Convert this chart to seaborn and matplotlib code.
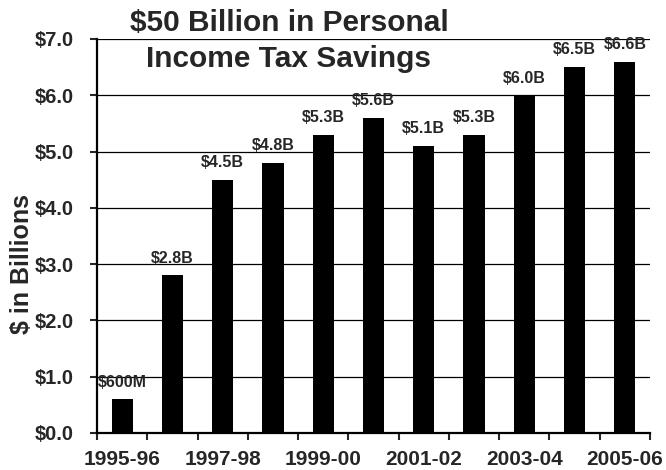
import matplotlib
matplotlib.use("Agg")
import matplotlib.pyplot as plt
import seaborn as sns
import pandas as pd
import numpy as np
from matplotlib.ticker import FixedLocator

years = ["1995-96", "1996-97", "1997-98", "1998-99", "1999-00", "2000-01",
         "2001-02", "2002-03", "2003-04", "2004-05", "2005-06"]
savings = [0.6, 2.8, 4.5, 4.8, 5.3, 5.6, 5.1, 5.3, 6.0, 6.5, 6.6]
bar_labels = ["$600M", "$2.8B", "$4.5B", "$4.8B", "$5.3B", "$5.6B",
              "$5.1B", "$5.3B", "$6.0B", "$6.5B", "$6.6B"]
y_ticks = [0, 1, 2, 3, 4, 5, 6, 7]
y_tick_labels = ["$0.0", "$1.0", "$2.0", "$3.0", "$4.0", "$5.0", "$6.0", "$7.0"]

sns.set_style("white")
plt.rcParams["font.family"] = ["Liberation Sans", "DejaVu Sans"]
plt.rcParams["font.weight"] = "bold"

df = pd.DataFrame({"year": years, "savings": savings})

fig = plt.figure(figsize=(6.66, 4.70), dpi=100)
ax = fig.add_axes([97 / 666, 1 - 433 / 470, (650 - 97) / 666, (433 - 39) / 470])

sns.barplot(data=df, x="year", y="savings", color="black", width=0.42,
            saturation=1, linewidth=0, ax=ax, zorder=3)

ax.set_xlim(-0.5, len(years) - 0.5)
ax.set_ylim(0, 7)

# horizontal grid lines at each dollar
for v in y_ticks[1:]:
    ax.axhline(v, color="black", linewidth=0.9, zorder=1)

ax.set_yticks(y_ticks)
ax.set_yticklabels(y_tick_labels, fontsize=14.5, fontweight="bold")
ax.tick_params(axis="y", direction="out", length=5, width=1.5, pad=12, left=True)

# labels under every other bar, tick marks at category boundaries
ax.set_xticks(range(0, len(years), 2))
ax.set_xticklabels(years[::2], fontsize=15, fontweight="bold")
ax.tick_params(axis="x", which="major", length=0, pad=12)
ax.xaxis.set_minor_locator(FixedLocator(np.arange(-0.5, len(years), 1.0)))
ax.tick_params(axis="x", which="minor", direction="out", length=5, width=1.5,
               bottom=True)

ax.set_xlabel("")
ax.set_ylabel("$ in Billions", fontsize=18, fontweight="bold")
ax.yaxis.set_label_coords(-0.114, 0.43)

for s in ["top", "right"]:
    ax.spines[s].set_visible(False)
for s in ["left", "bottom"]:
    ax.spines[s].set_color("black")
    ax.spines[s].set_linewidth(1.6)
    ax.spines[s].set_zorder(4)

for i, (v, lab) in enumerate(zip(savings, bar_labels)):
    ax.annotate(lab, (i, v), xytext=(0, 7), textcoords="offset points",
                ha="center", va="bottom", fontsize=11.5, fontweight="bold",
                zorder=5)

fig.text(289 / 666, 1 - 23 / 470, "$50 Billion in Personal", ha="center",
         va="center", fontsize=21.5, fontweight="bold")
fig.text(289 / 666, 1 - 59 / 470, "Income Tax Savings", ha="center",
         va="center", fontsize=21.5, fontweight="bold")

fig.savefig("out.png", dpi=100)
